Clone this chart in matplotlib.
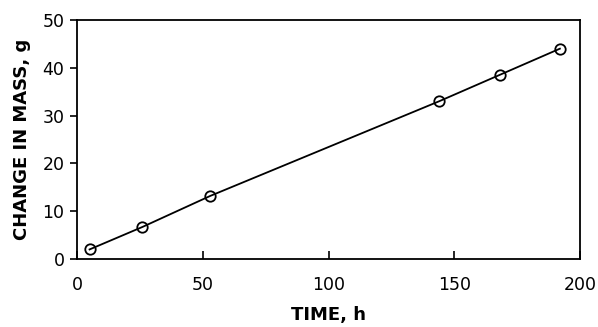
import matplotlib
matplotlib.use("Agg")
import matplotlib.pyplot as plt

time_h = [5, 26, 53, 144, 168, 192]
mass_change_g = [2.0, 6.7, 13.2, 33.0, 38.5, 44.0]
x_ticks = [0, 50, 100, 150, 200]
y_ticks = [0, 10, 20, 30, 40, 50]

plt.rcParams['font.family'] = ['DejaVu Sans']
fig = plt.figure(figsize=(5.98, 3.27), dpi=100)
ax = fig.add_axes([77/598, 1 - 259/327, 503/598, 239/327])
ax.plot(time_h, mass_change_g, color='black', lw=1.3, marker='o', ms=7.5,
        mfc='none', mec='black', mew=1.3)
ax.set_xlim(0, 200)
ax.set_ylim(0, 50)
ax.set_xticks(x_ticks)
ax.set_yticks(y_ticks)
ax.tick_params(axis='x', direction='in', length=6, width=1.2, labelsize=12.5, pad=12)
ax.tick_params(axis='y', direction='out', length=5, width=1.2, labelsize=12.5, pad=4)
for s in ax.spines.values():
    s.set_linewidth(1.3)
ax.set_xlabel('TIME, h', fontweight='bold', fontsize=13, labelpad=9)
ax.set_ylabel('CHANGE IN MASS, g', fontweight='bold', fontsize=13, labelpad=8)
fig.savefig('out.png', dpi=100)
